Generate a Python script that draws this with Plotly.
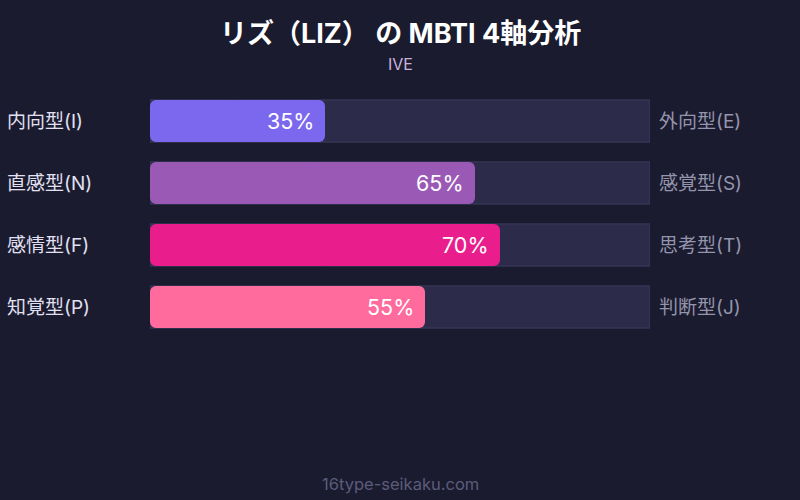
"""
MBTI 4-axis chart for LIZ (IVE), rebuilt with plotly.
"""
import plotly.graph_objects as go

# data
left_labels = ["内向型(I)", "直感型(N)", "感情型(F)", "知覚型(P)"]
right_labels = ["外向型(E)", "感覚型(S)", "思考型(T)", "判断型(J)"]
scores = [35, 65, 70, 55]
bar_colors = ["#7b68ee", "#9b59b6", "#e91e8c", "#ff6b9d"]
track_max = [100, 100, 100, 100]

BG = "#1a1b2e"
FONT = "Inter, Noto Sans CJK JP, sans-serif"
BAR_W = 0.68

rows = list(range(len(scores)))
mid = [s * 0.5 for s in scores]

fig = go.Figure()

# background track
fig.add_trace(go.Bar(
    x=track_max, y=rows, orientation="h", width=BAR_W, offset=-BAR_W / 2,
    marker=dict(color="#2d2b4a", line=dict(color="#3e3c60", width=1)),
    hoverinfo="skip", showlegend=False,
))

# score bars: two halves drawn from the middle outward so that both ends
# get rounded corners (plotly only rounds the end away from the base)
fig.add_trace(go.Bar(
    x=[-m - 1 for m in mid], base=[m + 1 for m in mid], y=rows, orientation="h",
    width=BAR_W, offset=-BAR_W / 2,
    marker=dict(color=bar_colors, line=dict(width=0), cornerradius=6),
    hoverinfo="skip", showlegend=False,
))
fig.add_trace(go.Bar(
    x=[m + 1 for m in mid], base=[m - 1 for m in mid], y=rows, orientation="h",
    width=BAR_W, offset=-BAR_W / 2,
    marker=dict(color=bar_colors, line=dict(width=0), cornerradius=6),
    hoverinfo="skip", showlegend=False,
))

# percentage labels at the bar ends, side labels outside the track
for i, (lt, rt, s) in enumerate(zip(left_labels, right_labels, scores)):
    fig.add_annotation(x=s, y=i, xref="x", yref="y", text=f"{s}%",
                       showarrow=False, xanchor="right", yanchor="middle", xshift=-9,
                       font=dict(size=21.5, color="white", family=FONT))
    fig.add_annotation(x=-0.29, y=i, xref="paper", yref="y", text=lt,
                       showarrow=False, xanchor="left", yanchor="middle",
                       font=dict(size=19, color="#e2e0f2", family=FONT))
    fig.add_annotation(x=1.014, y=i, xref="paper", yref="y", text=rt,
                       showarrow=False, xanchor="left", yanchor="middle",
                       font=dict(size=19, color="#9494ac", family=FONT))

# title, subtitle and footer
fig.add_annotation(text="<b>リズ（LIZ） の MBTI 4軸分析</b>", xref="paper", yref="paper",
                   x=0.5, y=1, yshift=57, yanchor="middle", showarrow=False,
                   font=dict(size=27, color="white", family=FONT))
fig.add_annotation(text="IVE", xref="paper", yref="paper",
                   x=0.5, y=1, yshift=26, yanchor="middle", showarrow=False,
                   font=dict(size=16, color="#c9b3dc", family=FONT))
fig.add_annotation(text="16type-seikaku.com", xref="paper", yref="paper",
                   x=0.5, y=0, yshift=-146, yanchor="middle", showarrow=False,
                   font=dict(size=16.5, color="#5c5c7c", family=FONT))

fig.update_layout(
    width=800, height=500,
    paper_bgcolor=BG, plot_bgcolor=BG,
    margin=dict(l=150, r=150, t=90, b=162),
    barmode="group",
    xaxis=dict(range=[0, 100], visible=False, fixedrange=True),
    yaxis=dict(range=[3.5, -0.5], visible=False, fixedrange=True),
    font=dict(family=FONT),
)

# drop the default page margin so the chart sits at (0, 0)
fig.write_html("out.html", config={"displayModeBar": False},
               post_script="document.body.style.margin='0';")
